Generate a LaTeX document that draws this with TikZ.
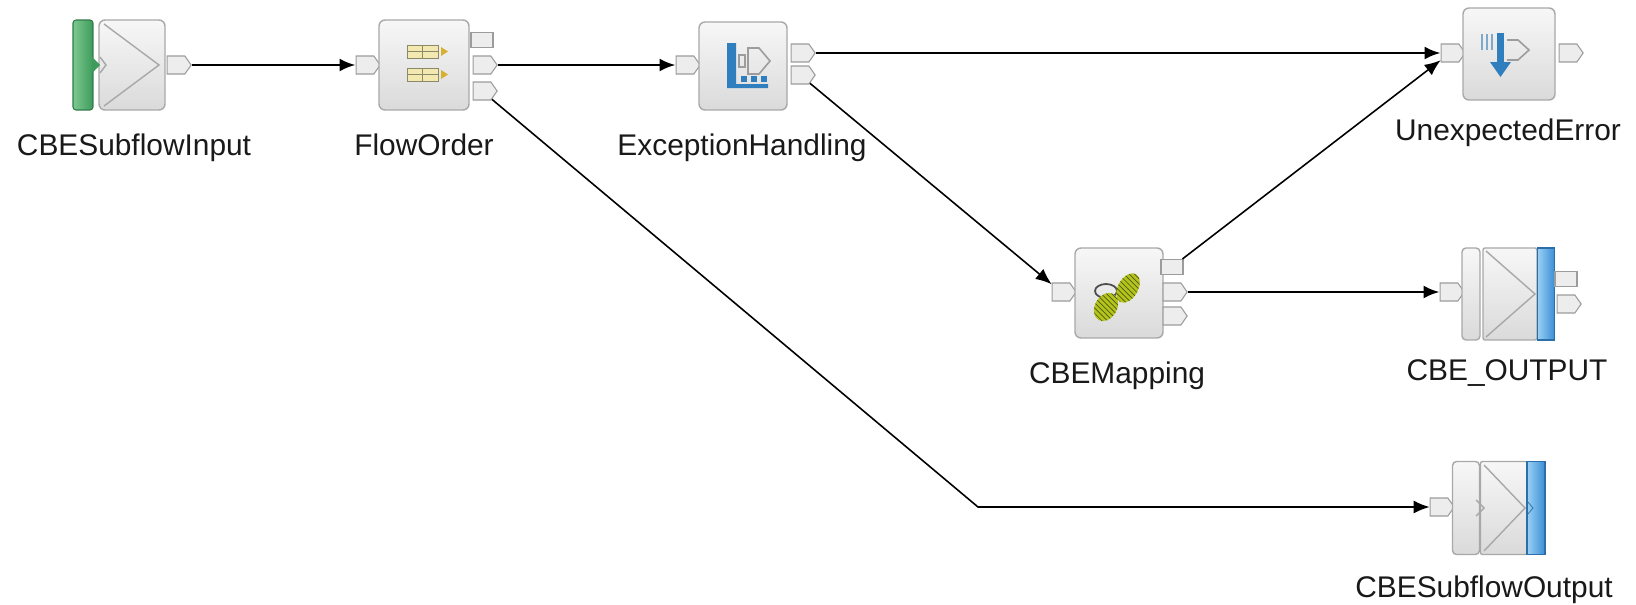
\documentclass[tikz,border=0pt]{standalone}
\usepackage{fontspec}
\setmainfont{Liberation Sans}
\usetikzlibrary{arrows.meta,shapes.symbols,patterns}

\definecolor{boxline}{HTML}{A8A8A8}
\definecolor{boxtop}{HTML}{F7F7F7}
\definecolor{boxbot}{HTML}{DADADA}
\definecolor{termline}{HTML}{9C9C9C}
\definecolor{termfill}{HTML}{EDEDED}
\definecolor{greentop}{HTML}{7CC98F}
\definecolor{greenbot}{HTML}{3E9B5C}
\definecolor{greenline}{HTML}{2F7A47}
\definecolor{bluelight}{HTML}{9AD0F5}
\definecolor{bluedark}{HTML}{3B8ED6}
\definecolor{blueline}{HTML}{2A6FA8}
\definecolor{icoblue}{HTML}{2F7FBF}
\definecolor{tabfill}{HTML}{F3E9B0}
\definecolor{tabline}{HTML}{8A8A6A}
\definecolor{tabarrow}{HTML}{D8B030}
\definecolor{lime}{HTML}{B4C41C}
\definecolor{olive}{HTML}{4E5A10}

\begin{document}
\begin{tikzpicture}[x=0.02cm,y=-0.02cm]
% Canvas
\useasboundingbox (0,0) rectangle (1636,605);
\fill[white] (0,0) rectangle (1636,605);

\tikzstyle{box} = [draw=boxline, shape=rectangle, rounded corners=0.12cm, minimum height=1.8cm, minimum width=1.8cm, inner sep=0pt, line width=0.8pt, top color=boxtop, bottom color=boxbot]
\tikzstyle{term} = [draw=termline, shape=signal, signal to=east, signal pointer angle=110, minimum height=0.36cm, minimum width=0.48cm, inner sep=0pt, line width=0.6pt, fill=termfill]
\tikzstyle{sq} = [draw=termline, shape=rectangle, minimum height=0.3cm, minimum width=0.44cm, inner sep=0pt, line width=0.6pt, fill=termfill]
\tikzstyle{greenbar} = [draw=greenline, shape=rectangle, rounded corners=0.06cm, minimum height=1.8cm, minimum width=0.4cm, inner sep=0pt, line width=0.6pt, left color=greentop, right color=greenbot]
\tikzstyle{bluebar} = [draw=blueline, shape=rectangle, minimum height=1.84cm, minimum width=0.34cm, inner sep=0pt, line width=0.6pt, left color=bluelight, right color=bluedark]
\tikzstyle{chev} = [draw=boxline, line width=0.8pt]
\tikzstyle{txt} = [anchor=base, inner sep=0pt, font=\fontsize{17}{20}\selectfont, text=black!90]
\tikzstyle{wire} = [black, line width=1.6pt, -{Latex[length=0.32cm,width=0.26cm]}]
\tikzstyle{diag} = [black, line width=0.9pt, -{Latex[length=0.32cm,width=0.26cm]}]

% CBESubflowInput
\node at (83,65) [greenbar] (inBar){};
\node at (132,65) [box, minimum width=1.32cm] (inBox){};
\node at (176,65) [term] (inOut){};
\fill[greenbot] (92,57) -- (100,65) -- (92,73) -- cycle;
\draw[chev] (104,24) -- (159,65) -- (104,106);
\draw[chev] (100,57) -- (106,65) -- (100,73);

% FlowOrder
\node at (365,65) [term] (foIn){};
\node at (424,65) [box] (foBox){};
\node at (482,40) [sq] (foO1){};
\node at (482,65) [term] (foO2){};
\node at (482,91) [term] (foO3){};
\foreach \y in {45,68} {
  \draw[tabline, fill=tabfill] (407,\y) rectangle (438,\y+13);
  \draw[tabline] (422,\y) -- (422,\y+13);
  \draw[tabline] (407,\y+6.5) -- (438,\y+6.5);
  \fill[tabarrow] (441,\y+2) -- (448,\y+6.5) -- (441,\y+11) -- cycle;
}

% ExceptionHandling
\node at (685,65) [term] (ehIn){};
\node at (743,66) [box, minimum height=1.76cm, minimum width=1.76cm] (ehBox){};
\node at (800,53) [term] (ehO1){};
\node at (800,75) [term] (ehO2){};
\fill[icoblue] (727,43) -- (736,43) -- (736,84) -- (768,84) -- (768,88) -- (727,88) -- cycle;
\foreach \x in {741,751,761} \fill[icoblue] (\x,76) rectangle (\x+6,82);
\draw[termline, line width=0.8pt] (739,55) rectangle (745,67);
\draw[termline, line width=0.9pt] (748,48) -- (759,48) -- (770,61) -- (759,74) -- (748,74) -- cycle;

% UnexpectedError
\node at (1450,53) [term] (ueIn){};
\node at (1509,54) [box, minimum height=1.84cm, minimum width=1.84cm] (ueBox){};
\node at (1568,53) [term] (ueOut){};
\foreach \x in {1482,1487,1492} \draw[blueline!60, line width=1pt] (\x,34) -- (\x,50);
\fill[icoblue] (1497,33) rectangle (1504,63);
\fill[icoblue] (1490,62) -- (1511,62) -- (1500.5,77) -- cycle;
\draw[termline, line width=0.9pt] (1507,40) -- (1518,40) -- (1529,50) -- (1518,60) -- (1507,60);

% CBEMapping
\node at (1061,292) [term] (cmIn){};
\node at (1119,293) [box, minimum width=1.76cm] (cmBox){};
\node at (1172,267) [sq] (cmO1){};
\node at (1172,292) [term] (cmO2){};
\node at (1172,316) [term] (cmO3){};
\draw[black!70, line width=1pt] (1106,291) ellipse (11 and 7);
\fill[lime, rotate around={-30:(1128,288)}] (1128,288) ellipse (10 and 16);
\fill[pattern=north west lines, pattern color=olive, rotate around={-30:(1128,288)}] (1128,288) ellipse (10 and 16);
\fill[lime, rotate around={-30:(1106,307)}] (1106,307) ellipse (11 and 15);
\fill[pattern=north west lines, pattern color=olive, rotate around={-30:(1106,307)}] (1106,307) ellipse (11 and 15);

% CBE_OUTPUT
\node at (1449,292) [term] (coIn){};
\node at (1471,294) [box, minimum width=0.36cm, minimum height=1.84cm, rounded corners=0.08cm] (coLeft){};
\node at (1510,294) [box, minimum width=1.08cm, minimum height=1.84cm, rounded corners=0.04cm] (coChev){};
\node at (1546,294) [bluebar] (coBar){};
\node at (1566,279) [sq] (coO1){};
\node at (1566,304) [term] (coO2){};
\draw[chev] (1486,251) -- (1535,294) -- (1486,337);

% CBESubflowOutput
\node at (1439,507) [term] (soIn){};
\node at (1466,508) [box, minimum width=0.54cm, minimum height=1.86cm, rounded corners=0.08cm] (soLeft){};
\node at (1504,508) [box, minimum width=0.94cm, minimum height=1.86cm, rounded corners=0.04cm] (soChev){};
\node at (1536,508) [bluebar, minimum width=0.36cm, minimum height=1.86cm] (soBar){};
\draw[chev] (1476,500) -- (1484,508) -- (1476,516);
\draw[chev] (1484,465) -- (1525,508) -- (1484,551);
\draw[blueline] (1527,501) -- (1533,508) -- (1527,515);

% labels
\node at (134,155) [txt] (lIn) {CBESubflowInput};
\node at (424,155) [txt] (lFo) {FlowOrder};
\node at (742,155) [txt] (lEh) {ExceptionHandling};
\node at (1508,140) [txt] (lUe) {UnexpectedError};
\node at (1117,383) [txt] (lCm) {CBEMapping};
\node at (1507,380) [txt] (lCo) {CBE\_OUTPUT};
\node at (1484,597) [txt] (lSo) {CBESubflowOutput};

% connections
\coordinate (bend) at (978,507);
\draw[wire] (inOut) -- (foIn);
\draw[wire] (foO2) -- (ehIn);
\draw[wire] (ehO1) -- (ueIn);
\draw[wire] (cmO2) -- (coIn);
\draw[diag] (ehO2) -- (cmIn);
\draw[diag] (cmO1) -- (ueIn);
\draw[diag] (foO3) -- (bend) -- (soIn);
\end{tikzpicture}
\end{document}
